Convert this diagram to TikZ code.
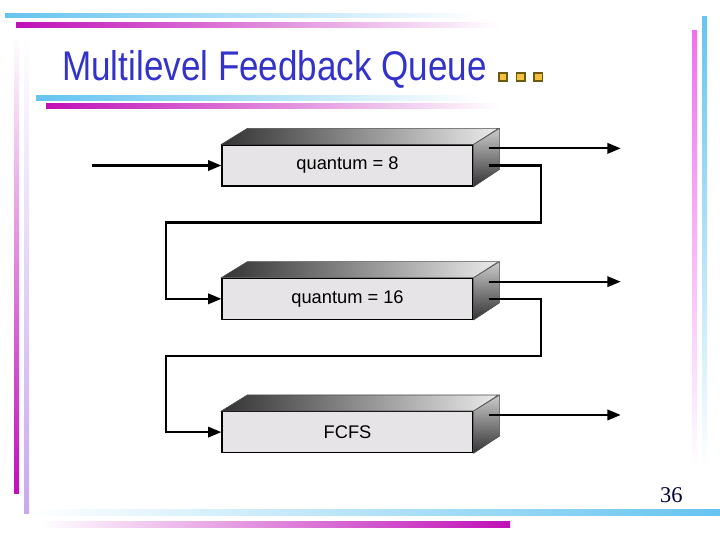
\documentclass[tikz,border=0pt]{standalone}
\usepackage{graphicx}
\usepackage{fontspec}
\setmainfont{Liberation Sans}
\newfontfamily\numfont{Liberation Serif}
\usepackage{tikz}
\usetikzlibrary{positioning,arrows.meta,calc}
\definecolor{titleblue}{HTML}{3333CC}
\definecolor{barblue}{HTML}{66C4F0}
\definecolor{barmagenta}{HTML}{C010B8}
\definecolor{barpink}{HTML}{F070F0}
\definecolor{barlilac}{HTML}{C8A8F0}
\definecolor{facegray}{HTML}{E6E4E6}
\definecolor{bulletfill}{HTML}{F4C040}
\definecolor{bulletedge}{HTML}{6B5A10}
\definecolor{pagenavy}{HTML}{000033}

\begin{document}
\begin{tikzpicture}[x=0.025cm, y=-0.025cm, >={Triangle[length=3.3mm,width=2.6mm]},
    queue/.style={draw, line width=0.9pt, fill=facegray, minimum width=6.275cm,
                  minimum height=1.025cm, inner sep=0pt, font=\fontsize{13}{15}\selectfont},
    flow/.style={->, line width=1.5pt},
    bulletbox/.style={draw=bulletedge, line width=1.1pt, fill=bulletfill, minimum size=0.21cm, inner sep=0pt}]
    \useasboundingbox (0,0) rectangle (720,540);
    % slide frame
    \shade[left color=barblue, right color=white] (5,13) rectangle (480,17);
    \shade[left color=barmagenta, right color=white] (16,22) rectangle (500,27);
    \shade[left color=barblue, right color=white] (36,95) rectangle (480,100);
    \shade[left color=barmagenta, right color=white] (46,103) rectangle (500,108);
    \shade[top color=barpink, bottom color=white] (692,30) rectangle (697,470);
    \shade[top color=barblue, bottom color=white] (702,16) rectangle (707,470);
    \shade[top color=white, bottom color=barmagenta] (14,35) rectangle (19,493);
    \shade[top color=white, bottom color=barlilac] (24,35) rectangle (29,513);
    \shade[left color=white, right color=barblue] (30,509) rectangle (720,515);
    \shade[left color=white, right color=barmagenta] (40,521) rectangle (510,527);

    \node[anchor=base west, inner sep=0pt, text=titleblue, font=\fontsize{29.5}{32}\selectfont] (title)
         at (62,80) {\scalebox{0.845}[1]{Multilevel Feedback Queue}};
    \node[bulletbox] (b1) at (503,77) {};
    \node[bulletbox, right=0.19cm of b1] (b2) {};
    \node[bulletbox, right=0.19cm of b2] (b3) {};
    \node[anchor=base east, inner sep=0pt, text=pagenavy, font=\numfont\fontsize{16}{18}\selectfont] (pagenum)
         at (683,502) {36};

    % the three queues
    \node[queue] (q1) at (347.5,165.5) {quantum = 8};
    \node[queue, below=2.275cm of q1] (q2) {quantum = 16};
    \node[queue, below=2.275cm of q2] (q3) {FCFS};
    \foreach \q in {q1,q2,q3} {
      \path[draw=black!70, left color=black!80, right color=black!8]
        (\q.north west) -- ++(26,-16) -- ++(251,0) -- (\q.north east) -- cycle;
      \path[draw=black!70, top color=black!20, bottom color=black!80]
        (\q.north east) -- ++(26,-16) -- ++(0,41) -- (\q.south east) -- cycle;
      \coordinate (\q-hi) at ($(\q.north east)+(15,4)$);
      \coordinate (\q-lo) at ($(\q.east)+(15,0)$);
      \coordinate (\q-out) at ($(\q-hi)+(132,0)$);
      \draw[flow] (\q-hi) -- (\q-out);
    }

    \coordinate (in) at (92,165.5);
    \draw[flow] (in) -- (q1.west);
    \coordinate (q1-turn) at ($(q1-lo)+(52,57)$);
    \coordinate (q2-turn) at ($(q2-lo)+(52,57)$);
    \draw[flow] (q1-lo) -| (q1-turn) -- ++(-375,0) |- (q2.west);
    \draw[flow] (q2-lo) -| (q2-turn) -- ++(-375,0) |- (q3.west);
\end{tikzpicture}
\end{document}
